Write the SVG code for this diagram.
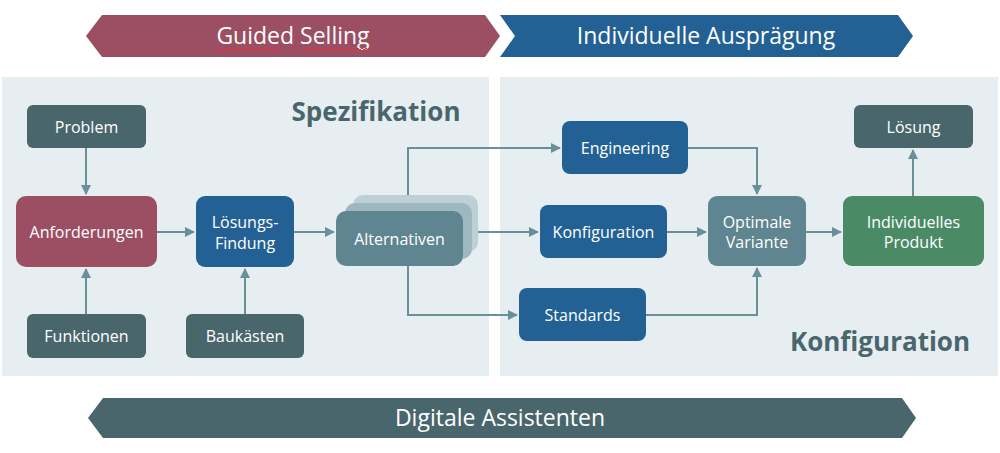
<svg xmlns="http://www.w3.org/2000/svg" width="1000" height="453" viewBox="0 0 1000 453">
<defs>
<style>
.t{font-family:"Open Sans","Liberation Sans",sans-serif;fill:#fff;text-anchor:middle;dominant-baseline:central}
.n{font-size:16px}
.b{font-size:23px}
.h{font-family:"Open Sans","Liberation Sans",sans-serif;font-weight:bold;font-size:26px;fill:#4a666d}
.c{fill:none;stroke:#6b8f98;stroke-width:2}
.dark{fill:#4a666d}
.red{fill:#9c4f63}
.blue{fill:#236195}
.gray{fill:#5f8590}
.green{fill:#4a8b66}
.panel{fill:#e6eef2}
</style>
<marker id="ah" viewBox="0 0 10 10" refX="9" refY="5" markerWidth="5" markerHeight="5" orient="auto" markerUnits="strokeWidth">
<path d="M0,0 L10,5 L0,10 Z" fill="#6b8f98"/>
</marker>
</defs>
<rect width="1000" height="453" fill="#fff"/>
<g id="banners">
<polygon class="red" points="102,15 485,15 500,36 485,57 102,57 86,36"/>
<text class="t b" x="293" y="35">Guided Selling</text>
<polyline points="216,48 218,50 220,48 222,50 224,48 226,50 228,48 230,50 232,48 234,50 236,48 238,50 240,48 242,50 244,48 246,50 248,48 250,50 252,48 254,50 256,48 258,50 260,48 262,50 264,48 266,50 268,48 270,50 272,48 274,50 276,48 278,50 280,48" fill="none" stroke="#e0303a" stroke-width="1"/>
<polyline points="302,48 304,50 306,48 308,50 310,48 312,50 314,48 316,50 318,48 320,50 322,48 324,50 326,48 328,50 330,48 332,50 334,48 336,50 338,48 340,50 342,48 344,50 346,48 348,50 350,48 352,50 354,48 356,50 358,48 360,50 362,48 364,50 366,48 368,50 370,48" fill="none" stroke="#e0303a" stroke-width="1"/>
<polygon class="blue" points="500,15 898,15 913,36 898,57 500,57 515,36"/>
<text class="t b" x="706" y="35">Individuelle Ausprägung</text>
<polygon class="dark" points="103,398 902,398 916,418 902,438 103,438 88,418"/>
<text class="t b" x="500" y="417">Digitale Assistenten</text>
</g>
<g id="panels">
<rect class="panel" x="2" y="77" width="487" height="299"/>
<rect class="panel" x="500" y="77" width="498" height="299"/>
<text class="h" x="376" y="121" text-anchor="middle">Spezifikation</text>
<text class="h" x="880" y="351" text-anchor="middle">Konfiguration</text>
</g>
<g id="connectors">
<path class="c" d="M86,148 V194" marker-end="url(#ah)"/>
<path class="c" d="M86,314 V269" marker-end="url(#ah)"/>
<path class="c" d="M245,314 V269" marker-end="url(#ah)"/>
<path class="c" d="M157,232 H194" marker-end="url(#ah)"/>
<path class="c" d="M294,232 H334" marker-end="url(#ah)"/>
<path class="c" d="M408,195 V148 H560" marker-end="url(#ah)"/>
<path class="c" d="M408,266 V315 H517" marker-end="url(#ah)"/>
<path class="c" d="M478,232 H538" marker-end="url(#ah)"/>
<path class="c" d="M667,232 H706" marker-end="url(#ah)"/>
<path class="c" d="M688,148 H757 V194" marker-end="url(#ah)"/>
<path class="c" d="M646,315 H757 V268" marker-end="url(#ah)"/>
<path class="c" d="M806,232 H841" marker-end="url(#ah)"/>
<path class="c" d="M913,196 V150" marker-end="url(#ah)"/>
</g>
<g id="problem">
<rect class="dark" x="27" y="105" width="119" height="43" rx="6"/>
<text class="t n" x="86.5" y="126.5">Problem</text>
</g>
<g id="anforderungen">
<rect class="red" x="16" y="196" width="141" height="71" rx="10"/>
<text class="t n" x="86.5" y="231.5">Anforderungen</text>
</g>
<g id="funktionen">
<rect class="dark" x="27" y="314" width="119" height="44" rx="6"/>
<text class="t n" x="86.5" y="336">Funktionen</text>
</g>
<g id="loesungsfindung">
<rect class="blue" x="196" y="196" width="98" height="71" rx="9"/>
<text class="t n" x="245" y="221.5">Lösungs-</text>
<text class="t n" x="245" y="242.5">Findung</text>
</g>
<g id="baukaesten">
<rect class="dark" x="186" y="314" width="118" height="44" rx="6"/>
<text class="t n" x="245" y="336">Baukästen</text>
</g>
<g id="alternativen">
<rect x="353" y="195" width="125" height="57" rx="10" fill="#bdd0d5"/>
<rect x="345" y="203" width="127" height="56" rx="10" fill="#9fb8bf"/>
<rect class="gray" x="336" y="211" width="127" height="55" rx="10"/>
<text class="t n" x="399.5" y="238.5">Alternativen</text>
</g>
<g id="engineering">
<rect class="blue" x="562" y="121" width="126" height="53" rx="8"/>
<text class="t n" x="625" y="147.5">Engineering</text>
</g>
<g id="konfiguration">
<rect class="blue" x="540" y="205" width="127" height="53" rx="8"/>
<text class="t n" x="603.5" y="231.5">Konfiguration</text>
</g>
<g id="standards">
<rect class="blue" x="519" y="288" width="127" height="53" rx="8"/>
<text class="t n" x="582.5" y="314.5">Standards</text>
</g>
<g id="optimale">
<rect class="gray" x="708" y="196" width="98" height="70" rx="9"/>
<text class="t n" x="757" y="221.5">Optimale</text>
<text class="t n" x="757" y="242">Variante</text>
</g>
<g id="individuelles">
<rect class="green" x="843" y="196" width="141" height="70" rx="9"/>
<text class="t n" x="913.5" y="221.5">Individuelles</text>
<text class="t n" x="913.5" y="242">Produkt</text>
</g>
<g id="loesung">
<rect class="dark" x="854" y="105" width="119" height="43" rx="6"/>
<text class="t n" x="913.5" y="126.5">Lösung</text>
</g>
</svg>
